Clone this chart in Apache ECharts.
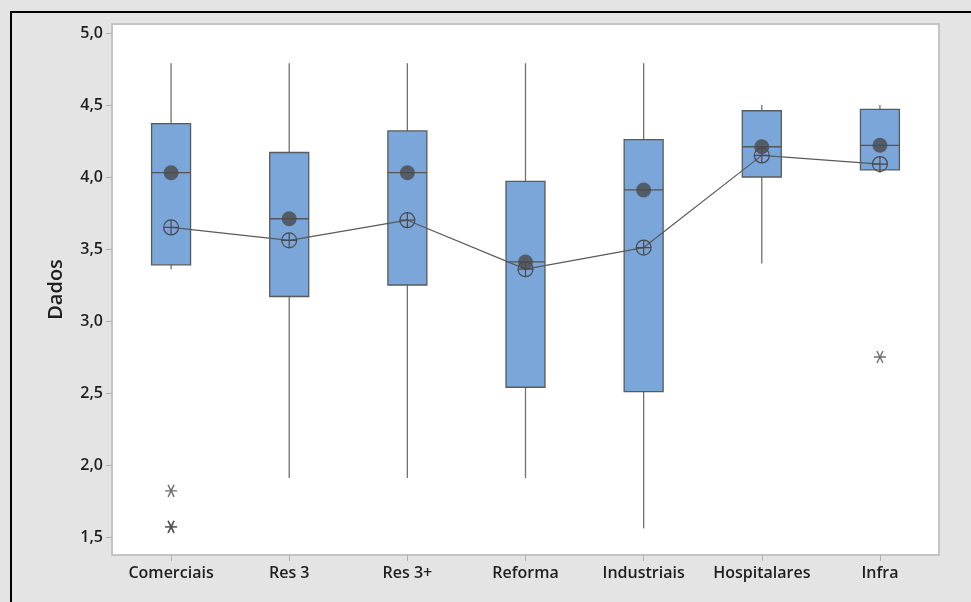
<!DOCTYPE html>
<html>
<head>
<meta charset="utf-8">
<script src="https://cdn.jsdelivr.net/npm/echarts@6/dist/echarts.min.js"></script>
<style>
html,body{margin:0;padding:0;background:#e4e4e4;}
#chart{width:971px;height:602px;}
</style>
</head>
<body>
<div id="chart"></div>
<script>
const categories = ['Comerciais','Res 3','Res 3+','Reforma','Industriais','Hospitalares','Infra'];
const whiskerLow  = [3.36, 1.91, 1.91, 1.91, 1.56, 3.40, 4.03];
const q1          = [3.39, 3.17, 3.25, 2.54, 2.51, 4.00, 4.05];
const medians     = [4.03, 3.71, 4.03, 3.41, 3.91, 4.21, 4.22];
const q3          = [4.37, 4.17, 4.32, 3.97, 4.26, 4.46, 4.47];
const whiskerHigh = [4.79, 4.79, 4.79, 4.79, 4.79, 4.50, 4.50];
const means       = [3.65, 3.56, 3.70, 3.36, 3.51, 4.15, 4.09];
const outlierCats   = ['Comerciais','Comerciais','Comerciais','Infra'];
const outlierValues = [1.82, 1.57, 1.57, 2.75];
const yTicks = [1.5, 2.0, 2.5, 3.0, 3.5, 4.0, 4.5, 5.0];

const boxData = categories.map((c, i) => [i, whiskerLow[i], q1[i], medians[i], q3[i], whiskerHigh[i]]);
const outlierData = outlierCats.map((c, i) => [c, outlierValues[i]]);

const circlePlus = 'path://M0,10 A10,10 0 1,1 20,10 A10,10 0 1,1 0,10 Z M10,0 L10,20 M0,10 L20,10';
const asterisk = 'path://M0,10 L20,10 M5,1.34 L15,18.66 M5,18.66 L15,1.34';

const chart = echarts.init(document.getElementById('chart'), null, {renderer:'canvas'});
const fmt = v => v.toFixed(1).replace('.', ',');
const labelFont = '"Open Sans", "Noto Sans", sans-serif';

chart.setOption({
  backgroundColor: '#e4e4e4',
  animation: false,
  graphic: [{
    type: 'rect', silent: true, z: 100,
    shape: {x: 11, y: 12, width: 1200, height: 1200},
    style: {fill: 'none', stroke: '#000', lineWidth: 2}
  }],
  grid: {
    left: 112, top: 24, right: 32, bottom: 47,
    show: true, backgroundColor: '#ffffff', borderColor: '#c4c4c4', borderWidth: 2
  },
  xAxis: {
    type: 'category',
    data: categories,
    boundaryGap: true,
    axisLine: {show: false},
    axisTick: {show: true, alignWithLabel: true, interval: 0, length: 6, lineStyle: {color: '#b0b0b0', width: 1}},
    axisLabel: {color: '#1e1e1e', fontSize: 16, fontWeight: 600, fontFamily: labelFont, margin: 10, interval: 0},
    splitLine: {show: false}
  },
  yAxis: {
    type: 'value',
    min: 1.375, max: 5.0625,
    name: 'Dados',
    nameLocation: 'middle',
    nameGap: 46,
    nameRotate: 90,
    nameTextStyle: {color: '#1e1e1e', fontSize: 20, fontWeight: 600, fontFamily: labelFont},
    axisLine: {show: false},
    axisTick: {show: true, length: 6, customValues: yTicks, lineStyle: {color: '#b0b0b0', width: 1}},
    axisLabel: {color: '#1e1e1e', fontSize: 16, fontWeight: 600, fontFamily: labelFont, margin: 9,
                customValues: yTicks, formatter: v => fmt(v)},
    splitLine: {show: false}
  },
  series: [
    {
      type: 'custom',
      z: 2,
      data: boxData,
      encode: {x: 0, y: [1, 2, 3, 4, 5]},
      renderItem: function (params, api) {
        const idx = api.value(0);
        const pLow = api.coord([idx, api.value(1)]);
        const pQ1 = api.coord([idx, api.value(2)]);
        const pMed = api.coord([idx, api.value(3)]);
        const pQ3 = api.coord([idx, api.value(4)]);
        const pHigh = api.coord([idx, api.value(5)]);
        const w = api.size([1, 0])[0] * 0.33;
        const x = pMed[0];
        const wStyle = {stroke: '#707070', lineWidth: 1.3};
        return {
          type: 'group',
          children: [
            {type: 'line', shape: {x1: x, y1: pQ1[1], x2: x, y2: pLow[1]}, style: wStyle},
            {type: 'line', shape: {x1: x, y1: pQ3[1], x2: x, y2: pHigh[1]}, style: wStyle},
            {type: 'rect', shape: {x: x - w / 2, y: pQ3[1], width: w, height: pQ1[1] - pQ3[1]},
             style: {fill: '#7aa6d9', stroke: '#5a5a5a', lineWidth: 1.3}},
            {type: 'line', shape: {x1: x - w / 2, y1: pMed[1], x2: x + w / 2, y2: pMed[1]},
             style: {stroke: '#555', lineWidth: 1.3}}
          ]
        };
      }
    },
    {
      type: 'line',
      z: 3,
      data: means,
      symbol: circlePlus,
      symbolSize: 15,
      showAllSymbol: true,
      lineStyle: {color: '#5a5a5a', width: 1.2},
      itemStyle: {color: 'rgba(0,0,0,0)', borderColor: '#4a4a4a', borderWidth: 1.2}
    },
    {
      type: 'scatter',
      z: 4,
      data: medians,
      symbol: 'circle',
      symbolSize: 15,
      itemStyle: {color: '#4a4a4a'}
    },
    {
      type: 'scatter',
      z: 4,
      data: outlierData,
      symbol: asterisk,
      symbolSize: 12,
      itemStyle: {color: 'rgba(0,0,0,0)', borderColor: '#4a4a4a', borderWidth: 1.4}
    }
  ]
});
</script>
</body>
</html>
